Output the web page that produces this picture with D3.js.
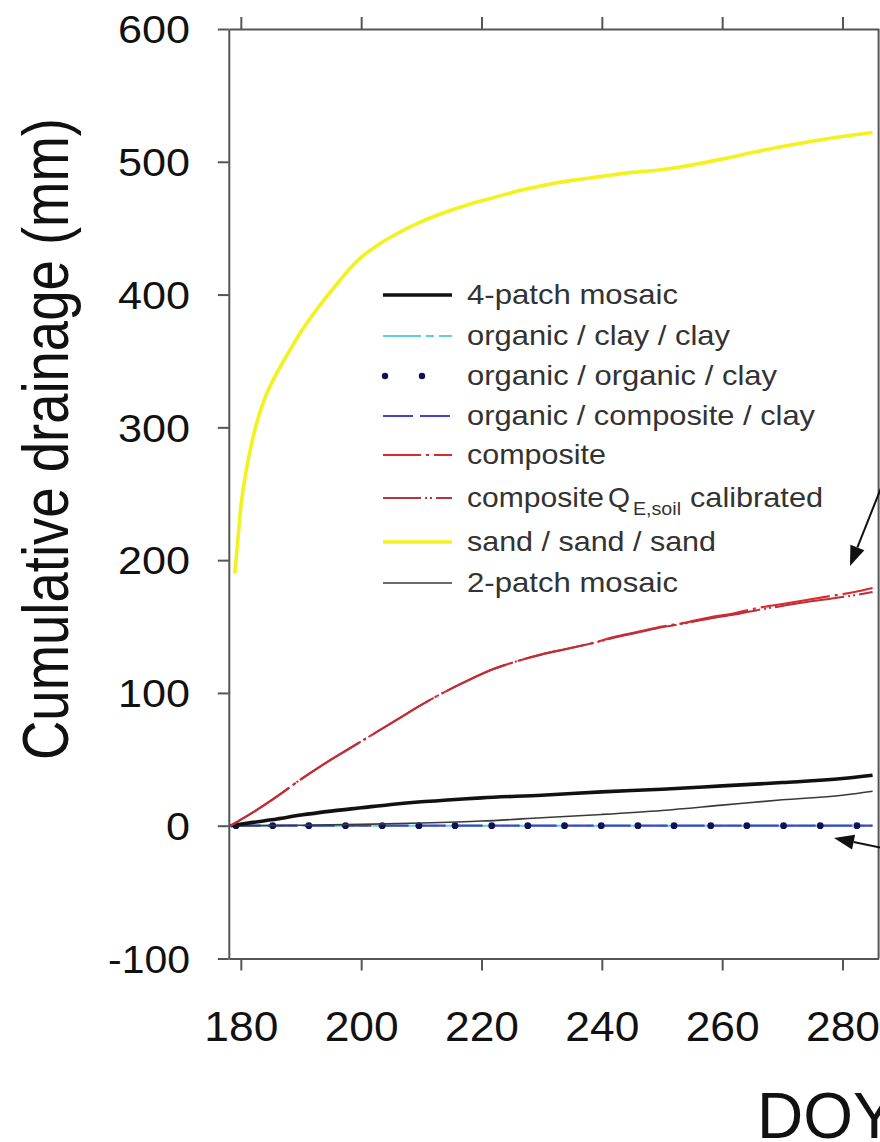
<!DOCTYPE html>
<html>
<head>
<meta charset="utf-8">
<script src="https://cdn.jsdelivr.net/npm/d3@7"></script>
<style>
  html, body { margin: 0; padding: 0; background: #fff; }
  svg { display: block; font-family: "Liberation Sans", Arial, Helvetica, sans-serif; }
</style>
</head>
<body>
<svg id="chart" width="880" height="1142"></svg>
<script>
// ---- data -------------------------------------------------------------
const xTicks = [180, 200, 220, 240, 260, 280];
const yTicks = [-100, 0, 100, 200, 300, 400, 500, 600];

const seriesNames = [
  "4-patch mosaic",
  "organic / clay / clay",
  "organic / organic / clay",
  "organic / composite / clay",
  "composite",
  "composite Q_E,soil calibrated",
  "sand / sand / sand",
  "2-patch mosaic"
];

// 4-patch mosaic
const mosaic4Doy = [178.3, 182, 186, 190, 195, 200, 205, 210, 215, 220, 230, 240, 250, 260, 270, 280, 285];
const mosaic4Val = [0, 2.5, 5, 8, 11, 13.5, 16, 18, 19.5, 21, 23, 25.5, 27.5, 30, 32.5, 35.5, 38];

// organic / clay / clay
const orgClayDoy = [178.3, 200, 220, 240, 260, 285];
const orgClayVal = [0, 0, 0, 0, 0, 0];

// organic / organic / clay (markers only)
const orgOrgDoy = [179.2, 185.3, 191.3, 197.4, 203.5, 209.6, 215.6, 221.7, 227.7, 233.8, 239.9, 246, 252, 258.1, 264.1, 270.2, 276.3, 282.4];
const orgOrgVal = [0, 0, 0, 0, 0, 0, 0, 0, 0, 0, 0, 0, 0, 0, 0, 0, 0, 0];

// organic / composite / clay
const orgCompDoy = [178.3, 200, 220, 240, 260, 285];
const orgCompVal = [0, 0, 0, 0, 0, 0];

// composite
const compDoy = [178.3, 182, 186, 190, 194, 198, 202, 206, 210, 214, 218, 222, 226, 230, 234, 238, 242, 246, 250, 254, 258, 262, 266, 270, 274, 278, 282, 285];
const compVal = [0, 10, 22, 35, 47, 58, 69, 80, 91, 101, 110, 118, 124, 129, 133, 137, 142, 146, 150, 153, 157, 160, 164, 167, 170, 173, 176, 179];

// composite, Q_E,soil calibrated
const compCalDoy = [178.3, 182, 186, 190, 194, 198, 202, 206, 210, 214, 218, 222, 226, 230, 234, 238, 242, 246, 250, 254, 258, 262, 266, 270, 274, 278, 282, 285];
const compCalVal = [0, 10, 22, 35, 47, 58, 69, 80, 91, 101, 110, 118, 124, 129, 133, 137, 141.5, 145.5, 149.5, 152.5, 156, 159, 162.5, 165.5, 168.5, 171, 173.5, 176];

// sand / sand / sand
const sandDoy = [179, 179.5, 180, 181, 182, 183, 184, 186, 188, 190, 192, 194, 196, 198, 200, 203, 206, 210, 214, 218, 222, 226, 230, 235, 240, 245, 250, 253, 256, 260, 265, 270, 275, 280, 285];
const sandVal = [190, 215, 240, 270, 292, 309, 322, 341, 357, 372, 385, 397, 408, 419, 428, 438, 446, 455, 462, 468, 473, 478, 482, 486, 489, 492, 494, 496, 498.5, 502, 507, 511.5, 515.5, 519, 522];

// 2-patch mosaic
const mosaic2Doy = [178.3, 190, 200, 210, 220, 230, 240, 250, 260, 270, 280, 285];
const mosaic2Val = [0, 0.3, 1, 2, 3.5, 6, 8.5, 11.5, 15.5, 19.5, 23, 26];

// ---- layout & scales ---------------------------------------------------
const svg = d3.select("#chart");
const x = d3.scaleLinear().domain([178, 286]).range([228.8, 878.6]);
const y = d3.scaleLinear().domain([-100, 600]).range([958.5, 29]);
const X0 = x.range()[0], X1 = x.range()[1];
const Y0 = y.range()[0], Y1 = y.range()[1];

const zip = (xs, ys) => xs.map((d, i) => [d, ys[i]]);
const line = d3.line().x(d => x(d[0])).y(d => y(d[1])).curve(d3.curveMonotoneX);

// series styles
const styles = [
  { color: "#111111", width: 3.6, dash: null },
  { color: "#5ccfe0", width: 2,   dash: "53,5,8,5" },
  { color: "#101055", width: 0,   dash: null, dots: true },
  { color: "#4444c4", width: 2.2, dash: "30,7" },
  { color: "#dc2a2a", width: 2.2, dash: "70,5,3,5" },
  { color: "#b9303e", width: 2,   dash: "70,4,2,3,2,4" },
  { color: "#f2f21c", width: 3.6, dash: null },
  { color: "#3a3a3a", width: 1.6, dash: null }
];

const seriesData = [
  zip(mosaic4Doy, mosaic4Val),
  zip(orgClayDoy, orgClayVal),
  zip(orgOrgDoy, orgOrgVal),
  zip(orgCompDoy, orgCompVal),
  zip(compDoy, compVal),
  zip(compCalDoy, compCalVal),
  zip(sandDoy, sandVal),
  zip(mosaic2Doy, mosaic2Val)
];

// ---- axes -------------------------------------------------------------
const axisColor = "#555";
const plainFormat = d => String(d);   // hyphen-minus, as printed on the axis

// left axis
const gLeft = svg.append("g").attr("transform", `translate(${X0},0)`)
  .call(d3.axisLeft(y).tickValues(yTicks).tickFormat(plainFormat)
    .tickSize(11).tickPadding(27.8).tickSizeOuter(0));
gLeft.select(".domain").attr("stroke", axisColor).attr("stroke-width", 2);
gLeft.selectAll(".tick line").attr("stroke", axisColor).attr("stroke-width", 2);
gLeft.selectAll(".tick text")
  .attr("fill", "#111")
  .attr("font-size", 38)
  .attr("font-family", "Liberation Sans, Arial, sans-serif")
  .attr("dy", "0.36em")
  .attr("lengthAdjust", "spacingAndGlyphs")
  .attr("textLength", d => d < 0 ? 82 : (d === 0 ? 24 : 72));

// bottom axis
const gBottom = svg.append("g").attr("transform", `translate(0,${Y0})`)
  .call(d3.axisBottom(x).tickValues(xTicks).tickFormat(plainFormat)
    .tickSize(12).tickPadding(0).tickSizeOuter(0));
gBottom.select(".domain").attr("stroke", axisColor).attr("stroke-width", 2);
gBottom.selectAll(".tick line").attr("stroke", axisColor).attr("stroke-width", 2);
gBottom.selectAll(".tick text")
  .attr("fill", "#111")
  .attr("font-size", 42)
  .attr("font-family", "Liberation Sans, Arial, sans-serif")
  .attr("y", 82)
  .attr("dy", 0)
  .attr("lengthAdjust", "spacingAndGlyphs")
  .attr("textLength", 74);

// top axis (ticks only)
const gTop = svg.append("g").attr("transform", `translate(0,${Y1})`)
  .call(d3.axisTop(x).tickValues(xTicks).tickSize(12).tickFormat("").tickSizeOuter(0));
gTop.select(".domain").attr("stroke", axisColor).attr("stroke-width", 2);
gTop.selectAll(".tick line").attr("stroke", axisColor).attr("stroke-width", 2);

// right border
svg.append("line").attr("x1", X1).attr("x2", X1).attr("y1", Y1).attr("y2", Y0)
  .attr("stroke", axisColor).attr("stroke-width", 2);

// ---- series -------------------------------------------------------------
const drawOrder = [1, 3, 2, 7, 0, 4, 5, 6];
const gSeries = svg.append("g");
drawOrder.forEach(i => {
  const s = styles[i];
  if (s.dots) {
    gSeries.selectAll(null).data(seriesData[i]).enter().append("circle")
      .attr("cx", d => x(d[0])).attr("cy", d => y(d[1])).attr("r", 3.4)
      .attr("fill", s.color);
  } else {
    gSeries.append("path").datum(seriesData[i])
      .attr("d", line)
      .attr("fill", "none")
      .attr("stroke", s.color)
      .attr("stroke-width", s.width)
      .attr("stroke-dasharray", s.dash)
      .attr("stroke-linejoin", "round");
  }
});

// ---- legend ---------------------------------------------------------------
const legendRows = [295, 336, 376, 416, 455, 498, 542, 583];
const lx0 = 383, lx1 = 452, tx = 467;
const gLegend = svg.append("g").attr("fill", "#333").attr("font-size", 28);
const textWidths = [211, 263, 310, 348, 139, null, 249, 211];

seriesNames.forEach((name, i) => {
  const s = styles[i];
  const ry = legendRows[i];
  if (s.dots) {
    [385, 422].forEach(cx => gLegend.append("circle").attr("cx", cx).attr("cy", ry).attr("r", 3.2).attr("fill", s.color));
  } else {
    gLegend.append("line").attr("x1", lx0).attr("x2", lx1).attr("y1", ry).attr("y2", ry)
      .attr("stroke", s.color).attr("stroke-width", s.width)
      .attr("stroke-dasharray", s.dash ? s.dash.split(",").map(v => Math.min(+v, 38)).join(",") : null);
  }
  if (name.includes("Q_")) {
    const base = ry + 9;
    gLegend.append("text").attr("x", tx).attr("y", base).text("composite")
      .attr("textLength", 137).attr("lengthAdjust", "spacingAndGlyphs");
    gLegend.append("text").attr("x", 608).attr("y", base).text("Q")
      .attr("textLength", 22).attr("lengthAdjust", "spacingAndGlyphs");
    gLegend.append("text").attr("x", 633).attr("y", base + 8).attr("font-size", 18).text("E,soil")
      .attr("textLength", 48).attr("lengthAdjust", "spacingAndGlyphs");
    gLegend.append("text").attr("x", 690).attr("y", base).text("calibrated")
      .attr("textLength", 133).attr("lengthAdjust", "spacingAndGlyphs");
  } else {
    gLegend.append("text").attr("x", tx).attr("y", ry + 9).text(name)
      .attr("textLength", textWidths[i]).attr("lengthAdjust", "spacingAndGlyphs");
  }
});

// ---- annotation arrows --------------------------------------------------------
function arrow(x1, y1, x2, y2) {
  const ang = Math.atan2(y2 - y1, x2 - x1);
  const L = 20, W = 7.5;
  const bx = x2 - L * Math.cos(ang), by = y2 - L * Math.sin(ang);
  svg.append("line").attr("x1", x1).attr("y1", y1).attr("x2", bx).attr("y2", by)
    .attr("stroke", "#111").attr("stroke-width", 2);
  const px = -Math.sin(ang) * W, py = Math.cos(ang) * W;
  svg.append("path")
    .attr("d", `M${x2},${y2}L${bx + px},${by + py}L${bx - px},${by - py}Z`)
    .attr("fill", "#111");
}
arrow(881, 488, 850, 566);
arrow(882, 848, 834, 838);

// ---- axis titles ------------------------------------------------------------
svg.append("text")
  .attr("transform", "translate(68,439) rotate(-90)")
  .attr("text-anchor", "middle")
  .attr("font-size", 64)
  .attr("fill", "#111")
  .attr("textLength", 642)
  .attr("lengthAdjust", "spacingAndGlyphs")
  .text("Cumulative drainage (mm)");

// x-axis title, running past the right edge of the figure
svg.append("text")
  .attr("x", 757).attr("y", 1138)
  .attr("font-size", 64)
  .attr("fill", "#111")
  .text("DOY");
</script>
</body>
</html>
